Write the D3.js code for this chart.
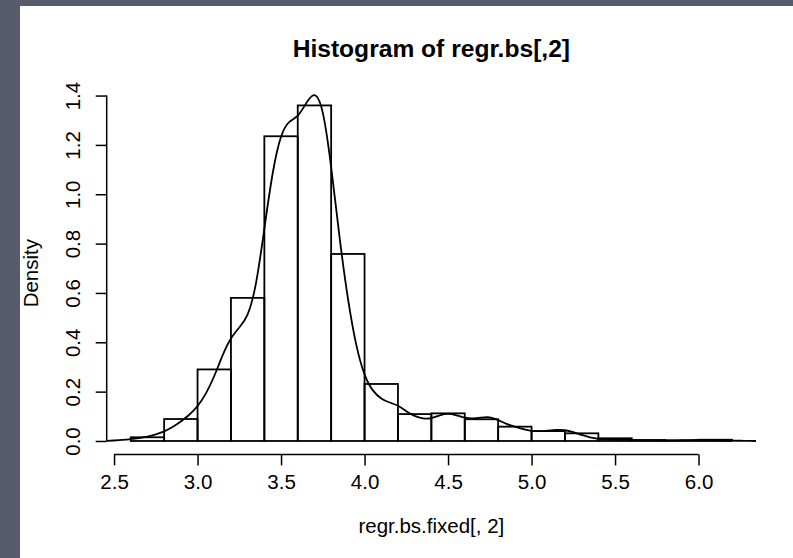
<!DOCTYPE html>
<html>
<head>
<meta charset="utf-8">
<script src="https://cdn.jsdelivr.net/npm/d3@7"></script>
<style>
  body { margin: 0; }
  svg { display: block; }
  text { font-family: "Liberation Sans", Arial, Helvetica, sans-serif; fill: #000; }
</style>
</head>
<body>
<div id="chart"></div>
<script>
// histogram bins (left edges, width 0.2) and their densities
var binStarts = [2.6, 2.8, 3.0, 3.2, 3.4, 3.6, 3.8, 4.0, 4.2, 4.4, 4.6, 4.8, 5.0, 5.2, 5.4, 5.6, 5.8, 6.0];
var binWidth = 0.2;
var binDensity = [0.015, 0.089, 0.29, 0.58, 1.235, 1.36, 0.758, 0.231, 0.109, 0.112, 0.088, 0.058, 0.04, 0.031, 0.011, 0.004, 0.002, 0.005];

// kernel density estimate
var densX = [2.45, 2.5, 2.55, 2.6, 2.65, 2.7, 2.75, 2.8, 2.85, 2.9, 2.95, 3.0, 3.05, 3.1, 3.15, 3.2, 3.25, 3.3, 3.35, 3.4,
  3.45, 3.5, 3.55, 3.6, 3.65, 3.7, 3.75, 3.8, 3.85, 3.9, 3.95, 4.0, 4.05, 4.1, 4.15, 4.2, 4.25, 4.3, 4.35, 4.4,
  4.45, 4.5, 4.55, 4.6, 4.65, 4.7, 4.75, 4.8, 4.85, 4.9, 4.95, 5.0, 5.05, 5.1, 5.15, 5.2, 5.25, 5.3, 5.35, 5.4,
  5.45, 5.5, 5.55, 5.6, 5.65, 5.7, 5.75, 5.8, 5.85, 5.9, 5.95, 6.0, 6.05, 6.1, 6.15, 6.2, 6.25, 6.3, 6.35];
var densY = [0.0, 0.002, 0.004, 0.007, 0.011, 0.017, 0.026, 0.038, 0.056, 0.078, 0.105, 0.139, 0.19, 0.26, 0.35, 0.42, 0.46, 0.5, 0.62, 0.86,
  1.1, 1.25, 1.3, 1.31, 1.37, 1.42, 1.36, 1.12, 0.82, 0.57, 0.38, 0.26, 0.2, 0.17, 0.155, 0.145, 0.12, 0.1, 0.09, 0.09,
  0.105, 0.112, 0.105, 0.093, 0.09, 0.095, 0.099, 0.085, 0.068, 0.058, 0.048, 0.04, 0.039, 0.042, 0.045, 0.045, 0.036, 0.024, 0.014, 0.008,
  0.006, 0.005, 0.004, 0.004, 0.003, 0.002, 0.002, 0.002, 0.002, 0.003, 0.004, 0.004, 0.004, 0.003, 0.002, 0.001, 0.001, 0.0, 0.0];

var xTicks = [2.5, 3.0, 3.5, 4.0, 4.5, 5.0, 5.5, 6.0];
var yTicks = [0.0, 0.2, 0.4, 0.6, 0.8, 1.0, 1.2, 1.4];

var svgWidth = 793;
var svgHeight = 558;

// plot region (R style, 4% padding on the data range)
var plot = { left: 106.7, right: 756, top: 92, bottom: 454.4 };

var svg = d3.select("#chart")
  .append("svg")
  .attr("width", svgWidth)
  .attr("height", svgHeight);

// slide background + white page
svg.append("rect")
  .attr("width", svgWidth)
  .attr("height", svgHeight)
  .attr("fill", "#575b6b");

svg.append("rect")
  .attr("x", 20)
  .attr("y", 6)
  .attr("width", svgWidth - 20)
  .attr("height", svgHeight - 6)
  .attr("fill", "#ffffff");

var xMin = binStarts[0];
var xMax = binStarts[binStarts.length - 1] + binWidth;
var xPad = (xMax - xMin) * 0.04;
var yMax = d3.max(binDensity);

var x = d3.scaleLinear()
  .domain([xMin - xPad, xMax + xPad])
  .range([plot.left, plot.right]);

var y = d3.scaleLinear()
  .domain([-0.04 * yMax, 1.04 * yMax])
  .range([plot.bottom, plot.top]);

svg.append("clipPath")
  .attr("id", "plotClip")
  .append("rect")
  .attr("x", plot.left)
  .attr("y", plot.top)
  .attr("width", plot.right - plot.left)
  .attr("height", plot.bottom - plot.top);

// bars
svg.append("g")
  .selectAll("rect")
  .data(binDensity)
  .enter()
  .append("rect")
  .attr("x", (d, i) => x(binStarts[i]))
  .attr("y", d => y(d))
  .attr("width", (d, i) => x(binStarts[i] + binWidth) - x(binStarts[i]))
  .attr("height", d => y(0) - y(d))
  .attr("fill", "none")
  .attr("stroke", "#000")
  .attr("stroke-width", 1.8);

// density line
var line = d3.line()
  .x(d => x(d[0]))
  .y(d => y(d[1]))
  .curve(d3.curveBasis);

svg.append("path")
  .datum(densX.map((v, i) => [v, densY[i]]))
  .attr("clip-path", "url(#plotClip)")
  .attr("d", line)
  .attr("fill", "none")
  .attr("stroke", "#000")
  .attr("stroke-width", 1.8);

// x axis
var xAxis = svg.append("g")
  .attr("transform", `translate(0, ${plot.bottom})`)
  .call(d3.axisBottom(x).tickValues(xTicks).tickFormat(d3.format(".1f")).tickSize(11).tickPadding(9));
xAxis.select(".domain").remove();
xAxis.append("line")
  .attr("x1", x(xTicks[0]))
  .attr("x2", x(xTicks[xTicks.length - 1]))
  .attr("stroke", "#000")
  .attr("stroke-width", 1.5);
xAxis.selectAll(".tick line").attr("stroke-width", 1.5);
xAxis.selectAll("text")
  .style("font-size", "20.5px")
  .style("font-family", "'Liberation Sans', Arial, sans-serif");

// y axis
var yAxis = svg.append("g")
  .attr("transform", `translate(${plot.left}, 0)`)
  .call(d3.axisLeft(y).tickValues(yTicks).tickFormat(d3.format(".1f")).tickSize(11));
yAxis.select(".domain").remove();
yAxis.append("line")
  .attr("y1", y(yTicks[0]))
  .attr("y2", y(yTicks[yTicks.length - 1]))
  .attr("stroke", "#000")
  .attr("stroke-width", 1.5);
yAxis.selectAll(".tick line").attr("stroke-width", 1.5);
yAxis.selectAll("text")
  .attr("x", 0)
  .attr("y", -26.7)
  .attr("dy", 0)
  .attr("transform", "rotate(-90)")
  .attr("text-anchor", "middle")
  .style("font-size", "20.5px")
  .style("font-family", "'Liberation Sans', Arial, sans-serif");

// titles
svg.append("text")
  .attr("x", (plot.left + plot.right) / 2)
  .attr("y", 57.3)
  .attr("text-anchor", "middle")
  .style("font-size", "24.6px")
  .style("font-weight", "bold")
  .text("Histogram of regr.bs[,2]");

svg.append("text")
  .attr("x", (plot.left + plot.right) / 2)
  .attr("y", 533)
  .attr("text-anchor", "middle")
  .style("font-size", "20.5px")
  .text("regr.bs.fixed[, 2]");

svg.append("text")
  .attr("transform", `translate(38, ${(plot.top + plot.bottom) / 2}) rotate(-90)`)
  .attr("text-anchor", "middle")
  .style("font-size", "20.5px")
  .text("Density");
</script>
</body>
</html>
